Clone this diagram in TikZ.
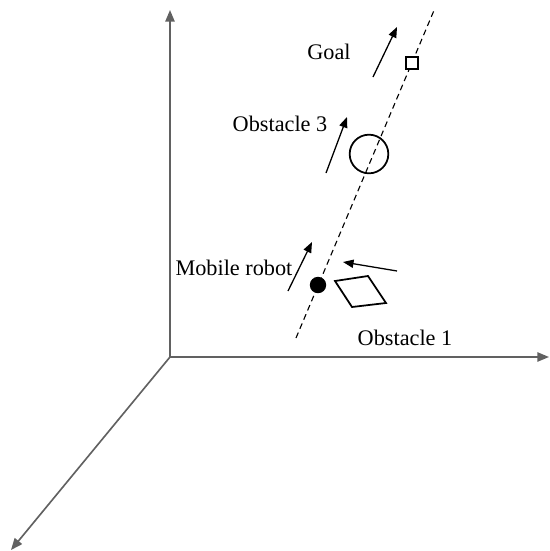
\documentclass[tikz,border=0pt]{standalone}
\usepackage{fontspec}
\setmainfont{LiberationSerif}[Extension=.ttf, UprightFont=*-Regular, BoldFont=*-Bold]
\usepackage{tikz}
\usetikzlibrary{positioning, calc, arrows.meta}

\begin{document}
\begin{tikzpicture}[
      x=0.03cm, y=-0.03cm,
      axis/.style={draw=black!62, line width=1.4pt, -{Triangle[length=10pt, width=8pt]}},
      motion/.style={draw=black, line width=1.1pt, -{Triangle[length=9pt, width=7pt]}},
      path line/.style={draw=black, line width=0.95pt, dash pattern=on 5pt off 3.5pt},
      label/.style={inner sep=0pt, font=\rmfamily\fontsize{19}{22}\selectfont}
    ]
      \useasboundingbox (0,0) rectangle (549,551);
      % axes
      \coordinate (origin) at (170,357);
      \coordinate (zend) at (170,10);
      \coordinate (xend) at (549,357);
      \coordinate (yend) at (11,550);
      \draw[axis] (origin) -- (zend);
      \draw[axis] (origin) -- (xend);
      \draw[axis] (origin) -- (yend);
      % planned path
      \coordinate (pathstart) at (296,338);
      \coordinate (pathend) at (435,8);
      \draw[path line] (pathstart) -- (pathend);
      % robot, goal and obstacles
      \node[circle, fill=black, minimum size=14pt, inner sep=0pt] (robot) at (318,285) {};
      \node[rectangle, draw, line width=1.5pt, minimum size=10pt, inner sep=0pt, fill=white] (goal) at (412,63) {};
      \node[circle, draw, line width=1.5pt, minimum size=33pt, inner sep=0pt] (obst3) at (369,154) {};
      \draw[line width=1.5pt, line join=miter] (335,281) coordinate (p1) -- (368,276) coordinate (p2)
        -- (386,303) coordinate (p3) -- (352,307) coordinate (p4) -- cycle;
      % motion directions
      \coordinate (goalA) at (373,77);   \coordinate (goalB) at (397,27);
      \coordinate (obst3A) at (326,173); \coordinate (obst3B) at (347,117);
      \coordinate (robotA) at (288,291); \coordinate (robotB) at (312,242);
      \coordinate (obst1A) at (397,271); \coordinate (obst1B) at (343,262);
      \draw[motion] (goalA) -- (goalB);
      \draw[motion] (obst3A) -- (obst3B);
      \draw[motion] (robotA) -- (robotB);
      \draw[motion] (obst1A) -- (obst1B);
      % labels
      \node[label] (goallabel) at (329,52) {Goal};
      \node[label] (obst3label) at (280,124) {Obstacle 3};
      \node[label] (robotlabel) at (234,268) {Mobile robot};
      \node[label] (obst1label) at (405,338) {Obstacle 1};
    \end{tikzpicture}
\end{document}
